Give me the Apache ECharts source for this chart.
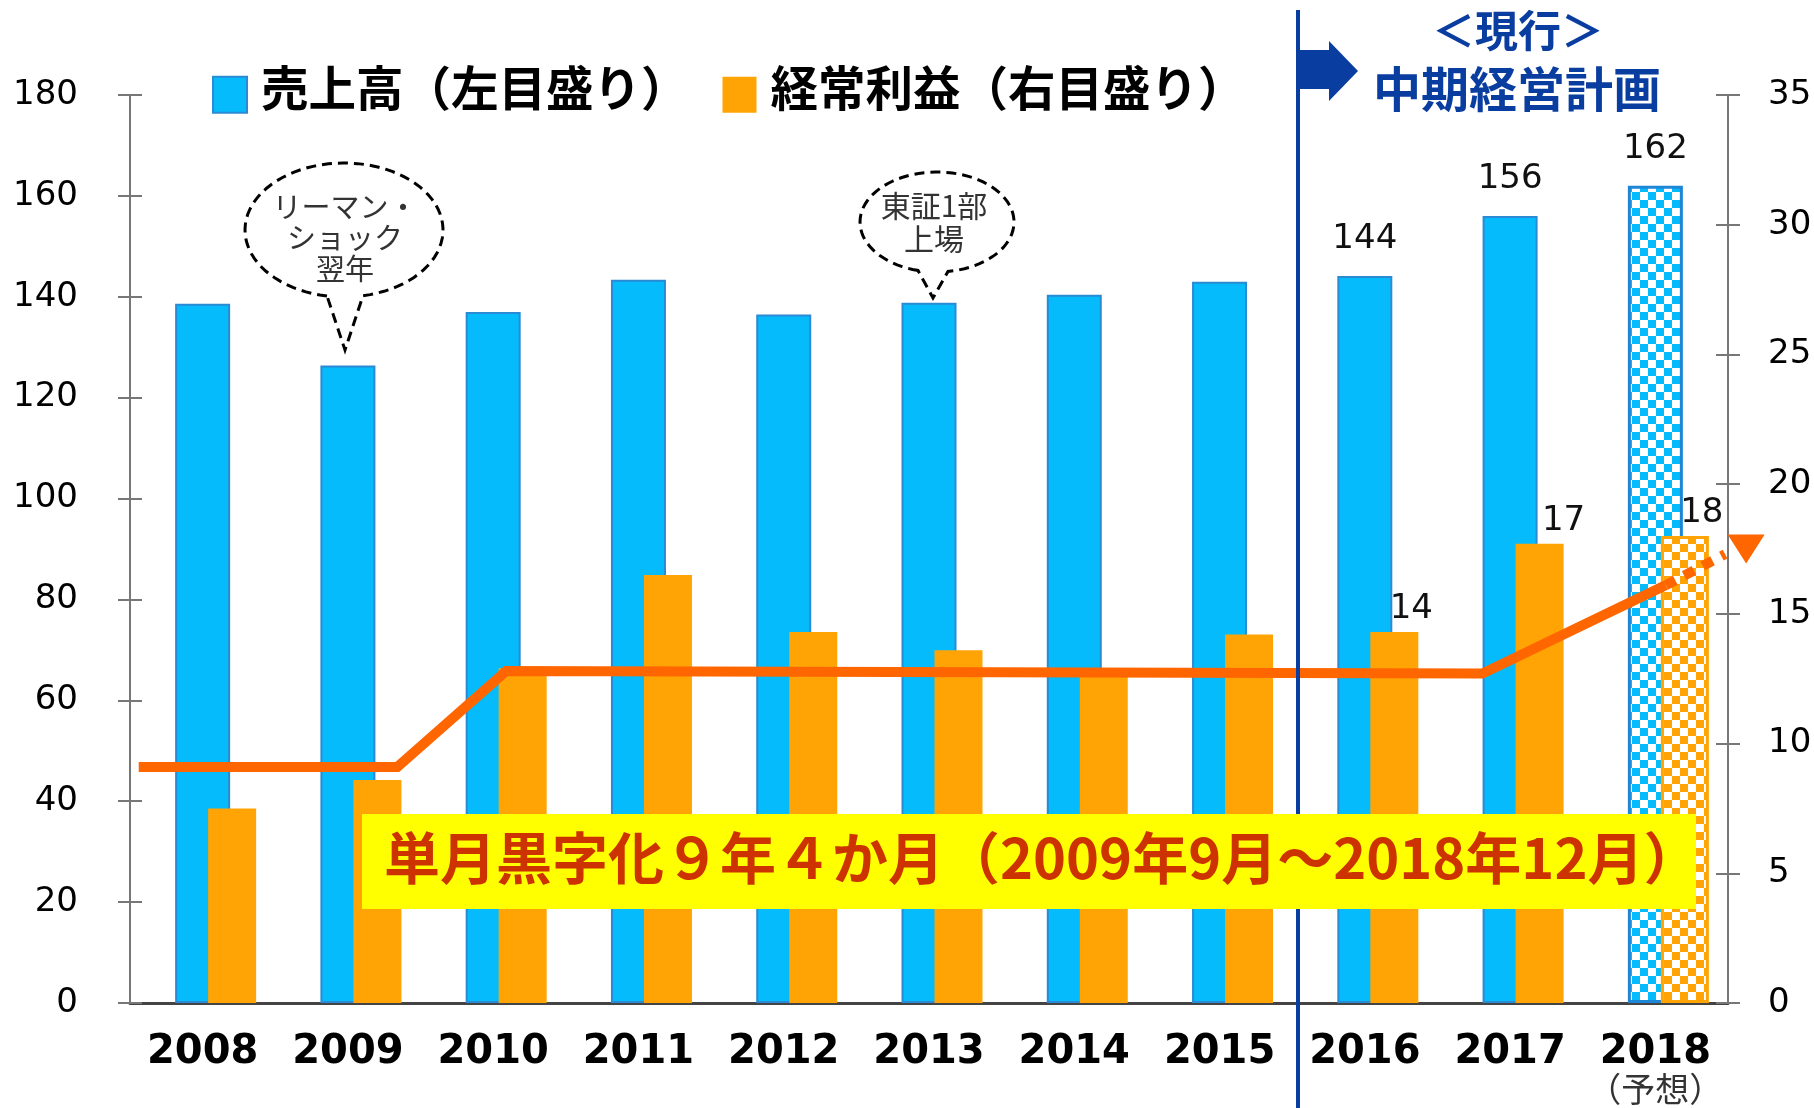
<!DOCTYPE html>
<html>
<head>
<meta charset="utf-8">
<script src="https://cdn.jsdelivr.net/npm/echarts@6/dist/echarts.min.js"></script>
<style>
  html, body { margin: 0; padding: 0; background: #fff; }
  #main { width: 1814px; height: 1108px; }
</style>
</head>
<body>
<div id="main"></div>
<script>
var years = ['2008', '2009', '2010', '2011', '2012', '2013', '2014', '2015', '2016', '2017', '2018'];
var sales = [138.6, 126.4, 137, 143.4, 136.5, 138.8, 140.4, 143, 144.1, 156, 162];     // 売上高 (left)
var profit = [7.5, 8.6, 12.9, 16.5, 14.3, 13.6, 12.8, 14.2, 14.3, 17.7, 18];          // 経常利益 (right)
var salesLabels = ['', '', '', '', '', '', '', '', '144', '156', '162'];
var profitLabels = ['', '', '', '', '', '', '', '', '14', '17', '18'];
var forecast = [false, false, false, false, false, false, false, false, false, false, true];

// trend line on right axis, x in category units (0 = 2008)
var trendX = [-0.44, 1.34, 2.09, 8.81, 10.07];
var trendY = [9.1, 9.1, 12.8, 12.7, 16.1];
var trendDotX = [10.07, 10.48];
var trendDotY = [16.1, 17.3];
var arrowHead = [10.625, 17.5];

var BLUE = '#05BBFB', BLUE_EDGE = '#2A8AD4', ORANGE = '#FFA404';
var JP = '"Noto Sans CJK JP", sans-serif';
var NUM = '"DejaVu Sans", Verdana, sans-serif';

function checker(c1, c2, s) {
    var cv = document.createElement('canvas');
    cv.width = cv.height = s * 2;
    var ctx = cv.getContext('2d');
    ctx.fillStyle = c2;
    ctx.fillRect(0, 0, s * 2, s * 2);
    ctx.fillStyle = c1;
    ctx.fillRect(0, 0, s, s);
    ctx.fillRect(s, s, s, s);
    return cv;
}
var blueCheck = checker(BLUE, '#ffffff', 8);
var orangeCheck = checker(ORANGE, '#ffffff', 8);

function zip(xs, ys) {
    return xs.map(function (x, i) { return [x, ys[i]]; });
}

// dashed speech bubble outline: ellipse with a tail pointing down
function bubble(cx, cy, rx, ry, xl, xr, tip) {
    var a0 = Math.acos((xl - cx) / rx);
    var a1 = Math.acos((xr - cx) / rx) + Math.PI * 2;
    var pts = [];
    for (var k = 0; k <= 80; k++) {
        var t = a0 + (a1 - a0) * k / 80;
        pts.push([cx + rx * Math.cos(t), cy + ry * Math.sin(t)]);
    }
    pts.push(tip);
    return pts;
}

var salesData = sales.map(function (v, i) {
    var d = { value: v };
    if (forecast[i]) d.itemStyle = { color: { image: blueCheck, repeat: 'repeat' }, borderColor: '#1E86D6', borderWidth: 3 };
    if (salesLabels[i]) d.label = { show: true };
    return d;
});
var profitData = profit.map(function (v, i) {
    var d = { value: v };
    if (forecast[i]) d.itemStyle = { color: { image: orangeCheck, repeat: 'repeat' }, borderColor: ORANGE, borderWidth: 3 };
    if (profitLabels[i]) d.label = { show: true, offset: [i === 9 ? 24 : 17, 0] };
    return d;
});

function yAxisBase(pos, max, interval, inside, labels) {
    return {
        type: 'value', position: pos, min: 0, max: max, interval: interval, offset: 0,
        splitLine: { show: false },
        axisLine: { show: !inside, onZero: false, lineStyle: { color: '#777', width: 2 } },
        axisTick: { show: true, inside: inside, length: 12, lineStyle: { color: '#777', width: 2 } },
        axisLabel: labels ? {
            show: true, margin: pos === 'left' ? 52 : 40,
            color: '#000', fontFamily: NUM, fontSize: 34, padding: [0, 0, 22, 0]
        } : { show: false }
    };
}

var chart = echarts.init(document.getElementById('main'));
var option = {
    animation: false,
    backgroundColor: '#fff',
    grid: { left: 130, right: 86, top: 95, bottom: 105, containLabel: false, outerBoundsMode: 'none' },
    legend: {
        data: ['売上高（左目盛り）', '経常利益（右目盛り）'],
        left: 212, top: 64, padding: 0, icon: 'rect',
        itemWidth: 34, itemHeight: 36, itemGap: 34,
        formatter: '{t|{name}}',
        textStyle: {
            fontFamily: JP, fontSize: 47.5, fontWeight: 'bold', color: '#000',
            rich: { t: { fontFamily: JP, fontSize: 47.5, fontWeight: 'bold', color: '#000', padding: [0, 0, 14, 9] } }
        }
    },
    xAxis: [
        {
            type: 'category', data: years, gridIndex: 0,
            axisLine: { onZero: false, lineStyle: { color: '#444', width: 3 } },
            axisTick: { show: false },
            axisLabel: {
                interval: 0, margin: 28, color: '#000', fontFamily: NUM, fontSize: 40, fontWeight: 'bold', lineHeight: 44,
                formatter: function (v, i) { return forecast[i] ? v + '\n{s|（予想）}' : v; },
                rich: { s: { fontFamily: JP, fontSize: 34, fontWeight: 'normal', color: '#333', lineHeight: 28 } }
            }
        },
        { type: 'category', data: years, gridIndex: 0, show: false },
        { type: 'value', min: -0.5, max: 10.5, gridIndex: 0, show: false }
    ],
    yAxis: [
        yAxisBase('left', 180, 20, false, true),
        yAxisBase('right', 35, 5, false, true),
        yAxisBase('left', 180, 20, true, false),
        yAxisBase('right', 35, 5, true, false)
    ],
    series: [
        {
            name: '売上高（左目盛り）', type: 'bar', xAxisIndex: 0, yAxisIndex: 0,
            barWidth: 55, data: salesData,
            itemStyle: { color: BLUE, borderColor: BLUE_EDGE, borderWidth: 2 },
            label: {
                show: false, position: 'top', distance: 20,
                fontFamily: NUM, fontSize: 34, color: '#111',
                formatter: function (p) { return salesLabels[p.dataIndex]; }
            }
        },
        {
            name: 'spacer', type: 'bar', xAxisIndex: 1, yAxisIndex: 1, silent: true,
            barWidth: 59, barGap: '0%', data: years.map(function () { return '-'; })
        },
        {
            name: '経常利益（右目盛り）', type: 'bar', xAxisIndex: 1, yAxisIndex: 1,
            barWidth: 48, barGap: '0%', data: profitData,
            itemStyle: { color: ORANGE },
            label: {
                show: false, position: 'top', distance: 6,
                fontFamily: NUM, fontSize: 34, color: '#111',
                formatter: function (p) { return profitLabels[p.dataIndex]; }
            }
        },
        {
            type: 'line', xAxisIndex: 2, yAxisIndex: 1, z: 5, symbol: 'none',
            data: zip(trendX, trendY),
            lineStyle: { color: '#FF6600', width: 10, cap: 'butt', join: 'miter' }
        },
        {
            type: 'line', xAxisIndex: 2, yAxisIndex: 1, z: 5, symbol: 'none', clip: false,
            data: zip(trendDotX, trendDotY),
            lineStyle: { color: '#FF6600', width: 10, type: [11, 10] }
        },
        {
            type: 'scatter', xAxisIndex: 2, yAxisIndex: 1, z: 6, clip: false,
            symbol: 'triangle', symbolSize: [37, 29], symbolRotate: 180,
            itemStyle: { color: '#FF6600', opacity: 1 },
            data: [arrowHead]
        }
    ],
    graphic: [
        // 現行 中期経営計画 divider
        { type: 'line', z: 100, shape: { x1: 1298, y1: 10, x2: 1298, y2: 1108 }, style: { stroke: '#0A3DA0', lineWidth: 4 } },
        { type: 'polygon', z: 100, shape: { points: [[1298, 50], [1329, 50], [1329, 41], [1358, 71], [1329, 101], [1329, 89], [1298, 89]] }, style: { fill: '#0A3DA0' } },
        { type: 'text', z: 100, x: 1518, y: 31, style: { text: '＜現行＞', fill: '#0A3DA0', font: 'bold 43px ' + JP, align: 'center', verticalAlign: 'middle' } },
        { type: 'text', z: 100, x: 1517, y: 89, style: { text: '中期経営計画', fill: '#0A3DA0', font: 'bold 48px ' + JP, align: 'center', verticalAlign: 'middle' } },
        // speech bubbles
        { type: 'polygon', z: 100, shape: { points: bubble(344, 230, 99, 67, 327, 363, [345, 350]) }, style: { fill: '#fff', stroke: '#000', lineWidth: 3, lineDash: [10, 6] } },
        { type: 'text', z: 101, x: 345, y: 238, style: { text: 'リーマン・\nショック\n翌年', fill: '#333', font: '29px ' + JP, lineHeight: 31, align: 'center', verticalAlign: 'middle' } },
        { type: 'polygon', z: 100, shape: { points: bubble(937, 222, 77, 50, 918, 948, [933, 298]) }, style: { fill: '#fff', stroke: '#000', lineWidth: 3, lineDash: [10, 6] } },
        { type: 'text', z: 101, x: 934, y: 222, style: { text: '東証1部\n上場', fill: '#333', font: '30px ' + JP, lineHeight: 33, align: 'center', verticalAlign: 'middle' } },
        // yellow banner
        { type: 'rect', z: 100, shape: { x: 362, y: 814, width: 1334, height: 95 }, style: { fill: '#FFFF00' } },
        { type: 'text', z: 101, x: 384, y: 858, style: { text: '単月黒字化９年４か月（2009年9月～2018年12月）', fill: '#CC3300', font: 'bold 56px ' + JP, align: 'left', verticalAlign: 'middle' } }
    ]
};
chart.setOption(option);
</script>
</body>
</html>
